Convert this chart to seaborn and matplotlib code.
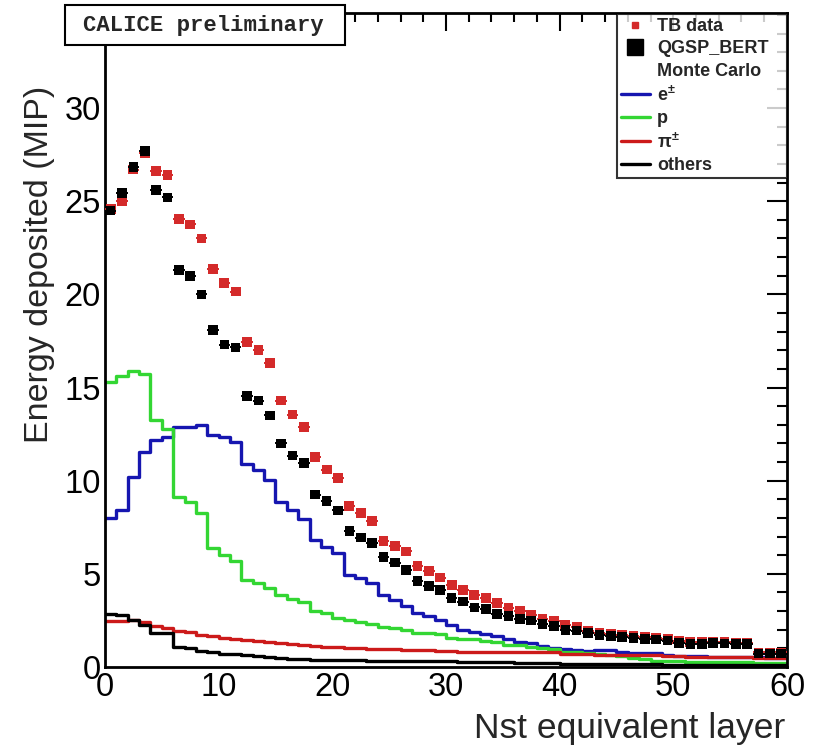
import numpy as np
import pandas as pd
import seaborn as sns
import matplotlib
matplotlib.use("Agg")
import matplotlib.pyplot as plt
from matplotlib.lines import Line2D
from matplotlib.patches import Rectangle
from matplotlib.ticker import MultipleLocator

# ---- data -------------------------------------------------------------
layer_centers = np.arange(0.5, 60, 1.0)
y_tick_values = [0, 5, 10, 15, 20, 25, 30]

# mean energy per layer (MIP)
tb_data = [24.6, 25.0, 26.7, 27.6, 26.6, 26.4, 24.05, 23.75, 23.0, 21.35,
           20.6, 20.15, 17.45, 17.0, 16.3, 14.3, 13.55, 12.9, 11.25, 10.6,
           10.15, 8.66, 8.28, 7.85, 6.75, 6.5, 6.2, 5.42, 5.15, 4.8,
           4.4, 4.13, 3.86, 3.69, 3.42, 3.15, 3.0, 2.79, 2.58, 2.47,
           2.25, 2.16, 1.95, 1.81, 1.78, 1.72, 1.65, 1.6, 1.55, 1.5,
           1.42, 1.35, 1.33, 1.35, 1.35, 1.32, 1.3, 0.78, 0.78, 0.78]

qgsp_bert = [24.5, 25.45, 26.85, 27.7, 25.6, 25.2, 21.3, 21.0, 20.0, 18.1,
             17.3, 17.15, 14.55, 14.3, 13.5, 12.0, 11.35, 10.95, 9.25, 8.9,
             8.4, 7.3, 6.95, 6.65, 5.9, 5.6, 5.2, 4.62, 4.35, 4.13,
             3.72, 3.51, 3.2, 3.1, 2.85, 2.75, 2.58, 2.49, 2.3, 2.2,
             2.0, 1.95, 1.82, 1.72, 1.68, 1.62, 1.55, 1.5, 1.47, 1.42,
             1.3, 1.25, 1.25, 1.28, 1.27, 1.25, 1.22, 0.72, 0.72, 0.72]

# Monte Carlo decomposition by particle type
mc_electron = [7.98, 8.43, 10.21, 11.56, 12.18, 12.33, 12.9, 12.9, 13.0, 12.45,
               12.33, 12.1, 10.88, 10.55, 10.05, 8.87, 8.4, 7.96, 6.84, 6.46,
               6.1, 4.94, 4.76, 4.49, 3.86, 3.6, 3.26, 2.9, 2.72, 2.54,
               2.26, 2.0, 1.88, 1.75, 1.65, 1.5, 1.36, 1.27, 1.12, 1.03,
               0.97, 0.92, 0.88, 0.9, 0.9, 0.78, 0.77, 0.76, 0.75, 0.62,
               0.6, 0.58, 0.57, 0.56, 0.55, 0.54, 0.53, 0.52, 0.5, 0.5]

mc_proton = [15.32, 15.62, 15.89, 15.75, 13.26, 12.76, 9.14, 8.87, 8.25, 6.37,
             6.0, 5.7, 4.65, 4.5, 4.22, 3.88, 3.65, 3.48, 3.0, 2.9,
             2.65, 2.5, 2.42, 2.33, 2.15, 2.08, 2.0, 1.85, 1.8, 1.75,
             1.55, 1.52, 1.5, 1.38, 1.33, 1.2, 1.16, 1.1, 1.0, 0.95,
             0.83, 0.8, 0.75, 0.7, 0.65, 0.6, 0.5, 0.45, 0.32, 0.3,
             0.3, 0.28, 0.28, 0.27, 0.26, 0.25, 0.25, 0.24, 0.23, 0.22]

mc_pion = [2.45, 2.45, 2.5, 2.42, 2.2, 2.12, 1.95, 1.88, 1.72, 1.65,
           1.55, 1.5, 1.45, 1.42, 1.35, 1.3, 1.25, 1.2, 1.15, 1.1,
           1.05, 1.02, 1.0, 0.98, 0.97, 0.95, 0.93, 0.92, 0.9, 0.88,
           0.84, 0.83, 0.83, 0.82, 0.82, 0.81, 0.8, 0.8, 0.79, 0.78,
           0.7, 0.69, 0.68, 0.67, 0.66, 0.65, 0.64, 0.63, 0.62, 0.58,
           0.57, 0.56, 0.55, 0.54, 0.53, 0.52, 0.52, 0.51, 0.5, 0.5]

mc_others = [2.85, 2.8, 2.52, 2.25, 1.85, 1.8, 1.05, 1.0, 0.85, 0.8,
             0.72, 0.7, 0.62, 0.6, 0.52, 0.5, 0.43, 0.42, 0.38, 0.37,
             0.36, 0.35, 0.35, 0.34, 0.34, 0.33, 0.32, 0.32, 0.31, 0.3,
             0.3, 0.29, 0.28, 0.27, 0.26, 0.25, 0.24, 0.23, 0.2, 0.2,
             0.18, 0.18, 0.17, 0.17, 0.16, 0.16, 0.15, 0.15, 0.14, 0.13,
             0.12, 0.12, 0.12, 0.11, 0.11, 0.11, 0.1, 0.1, 0.1, 0.1]

component_labels = ["e$^{\\pm}$", "p", "$\\pi^{\\pm}$", "others"]
component_colors = ["#1616b0", "#33d633", "#cc1a1a", "#000000"]
tb_color = "#d42a2a"
mc_color = "#000000"

mc_table = pd.DataFrame({
    "layer": layer_centers,
    "e": mc_electron,
    "p": mc_proton,
    "pi": mc_pion,
    "others": mc_others,
})
points = pd.DataFrame({"layer": layer_centers, "tb": tb_data, "mc": qgsp_bert})

# ---- style ------------------------------------------------------------
sns.set_theme(style="white")
plt.rcParams["font.family"] = ["Liberation Sans", "DejaVu Sans"]
plt.rcParams["mathtext.fontset"] = "custom"
plt.rcParams["mathtext.rm"] = "Liberation Sans:bold"
plt.rcParams["mathtext.it"] = "Liberation Sans:bold"

fig = plt.figure(figsize=(8.15, 7.53), dpi=100)
ax = fig.add_axes([0.1288, 0.1142, 0.9656 - 0.1288, 0.9827 - 0.1142])

# ---- Monte Carlo components as step histograms ----------------------
for col_name, col in zip(["e", "p", "pi", "others"], component_colors):
    sns.histplot(data=mc_table, x="layer", weights=col_name, binwidth=1,
                 binrange=(0, 60), element="step", fill=False, color=col,
                 linewidth=2.4, ax=ax)

# ---- data points with horizontal bin-width bars ----------------------
ax.errorbar(points["layer"], points["tb"], xerr=0.5, fmt="none", ecolor=tb_color,
            elinewidth=1.4, zorder=4)
sns.scatterplot(data=points, x="layer", y="tb", marker="s", s=50, color=tb_color,
                edgecolor="none", linewidth=0, ax=ax, zorder=5)
ax.errorbar(points["layer"], points["mc"], xerr=0.5, fmt="none", ecolor=mc_color,
            elinewidth=1.4, zorder=6)
sns.scatterplot(data=points, x="layer", y="mc", marker="s", s=48, color=mc_color,
                edgecolor="none", linewidth=0, ax=ax, zorder=7)

# ---- axes ---------------------------------------------------------------
ax.set_xlim(0, 60)
ax.set_ylim(0, 35.1)
ax.xaxis.set_major_locator(MultipleLocator(10))
ax.xaxis.set_minor_locator(MultipleLocator(2))
ax.set_yticks(y_tick_values)
ax.yaxis.set_minor_locator(MultipleLocator(1))
ax.tick_params(axis="both", which="both", direction="in", top=True, right=True,
               colors="black", width=1.5)
ax.tick_params(axis="y", which="major", length=14.5, pad=3.0, labelsize=23.5)
ax.tick_params(axis="y", which="minor", length=7.5)
ax.tick_params(axis="x", which="major", length=13, pad=3.5, labelsize=23.5)
ax.tick_params(axis="x", which="minor", length=6.5)
for sp in ax.spines.values():
    sp.set_linewidth(2.0)
    sp.set_color("black")

ax.set_xlabel("Nst equivalent layer", fontsize=25.5, ha="right", va="baseline")
ax.xaxis.set_label_coords(0.997, -0.1086)
ax.set_ylabel("Energy deposited (MIP)", fontsize=24.5, va="center")
ax.yaxis.set_label_coords(-0.096, 0.615)

# ---- legend -------------------------------------------------------------
handles = [
    Line2D([], [], ls="none", marker="s", ms=5, color=tb_color),
    Line2D([], [], ls="none", marker="s", ms=11, color=mc_color),
    Line2D([], [], ls="none"),
] + [Line2D([], [], color=c, lw=2.4) for c in component_colors]
labels = ["TB data", "QGSP_BERT", "Monte Carlo"] + component_labels
leg = ax.legend(handles, labels, loc="upper left",
                bbox_to_anchor=(0.7507, 0.0, 0.2493, 0.9985), mode="expand",
                borderaxespad=0, fancybox=False, frameon=True,
                prop={"weight": "bold", "size": 13},
                handlelength=1.6, handletextpad=0.4, labelspacing=0.3,
                borderpad=0.22)
leg.get_frame().set_edgecolor("black")
leg.get_frame().set_linewidth(1.5)
leg.set_zorder(10)

# ---- preliminary tag --------------------------------------------------
fig.add_artist(Rectangle((65 / 815, 1 - 45 / 753), 280 / 815, 40 / 753,
                         transform=fig.transFigure, facecolor="white",
                         edgecolor="black", linewidth=1.5, zorder=20))
fig.text(203 / 815, 1 - 25 / 753, "CALICE preliminary", ha="center", va="center",
         family=["Liberation Mono", "DejaVu Sans Mono"], weight="bold",
         fontsize=16, zorder=21)

fig.savefig("out.png", dpi=100, facecolor="white")
